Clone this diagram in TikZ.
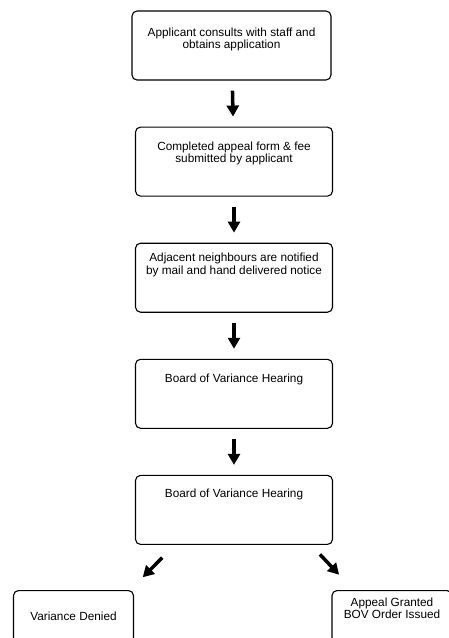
\documentclass[tikz,border=0pt]{standalone}
\usepackage{fontspec}
\setmainfont{Liberation Sans}
\usetikzlibrary{arrows.meta,positioning,calc}
\tikzset{
  stage/.style={
    draw,
    rectangle,
    rounded corners=5pt,
    line width=1.1pt,
    minimum width=197pt,
    minimum height=69pt,
    align=center,
    font=\fontsize{11.8}{12.5}\selectfont
  },
  outcome/.style={
    stage,
    minimum width=120pt,
    minimum height=52pt
  },
  lift/.style={
    text depth=#1
  },
  flow/.style={
    -{Triangle[width=12pt,length=11pt]},
    line width=3.5pt,
    shorten <=10pt,
    shorten >=10pt
  }
}

\begin{document}
\begin{tikzpicture}[x=1pt,y=1pt,node distance=46pt]
\useasboundingbox (0,0) rectangle (448,-638);

\node[stage, lift=15pt, minimum width=199pt] (consult) at (231.5,-45.5) {Applicant consults with staff and\\obtains application};
\node[stage, lift=19pt, below=of consult, xshift=2.5pt] (submit) {Completed appeal form \& fee\\submitted by applicant};
\node[stage, lift=28pt, below=of submit] (notify) {Adjacent neighbours are notified\\by mail and hand delivered notice};
\node[stage, lift=31pt, below=of notify] (hearing) {Board of Variance Hearing};
\node[stage, lift=34pt, below=of hearing] (decision) {Board of Variance Hearing};

\node[outcome, anchor=north] (denied) at (73.5,-590) {Variance Denied};
\node[outcome, lift=17pt, anchor=north] (granted) at (392,-590) {Appeal Granted\\BOV Order Issued};

\draw[flow] (consult) -- (submit);
\draw[flow] (submit) -- (notify);
\draw[flow] (notify) -- (hearing);
\draw[flow] (hearing) -- (decision);

\draw[flow, shorten <=18pt, shorten >=18pt] ($(decision.south west)+(40,0)$) -- ($(denied.north east)+(-4,0)$);
\draw[flow, shorten <=13pt, shorten >=21pt] ($(decision.south east)+(-22,0)$) -- ($(granted.north west)+(22,0)$);

\end{tikzpicture}
\end{document}
